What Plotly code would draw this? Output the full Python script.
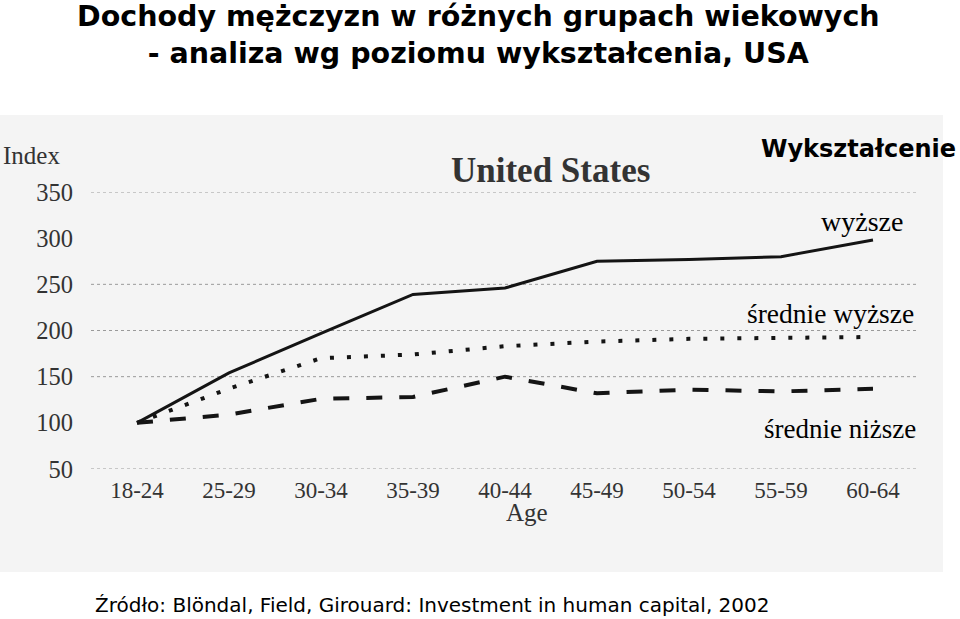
import plotly.graph_objects as go

# ---- data ----
age_groups = ["18-24", "25-29", "30-34", "35-39", "40-44", "45-49", "50-54", "55-59", "60-64"]
wyzsze = [100, 154, 197, 239, 246, 275, 277, 280, 298]
srednie_wyzsze = [100, 137, 170, 174, 183, 188, 191, 192, 193]
srednie_nizsze = [100, 109, 126, 128, 150, 132, 136, 134, 137]
y_ticks = [50, 100, 150, 200, 250, 300, 350]
grid_values = [50, 150, 200, 250, 350]

W, H = 960, 619
L, R, T, B = 91, 919, 192, 469  # plot area in pixels

def px(xp):
    return (xp - L) / (R - L)

def py(yp):
    return (B - yp) / (B - T)

fig = go.Figure()
fig.add_trace(go.Scatter(x=age_groups, y=wyzsze, mode="lines", name="wyższe",
                         line=dict(color="#141414", width=3)))
fig.add_trace(go.Scatter(x=age_groups, y=srednie_wyzsze, mode="lines", name="średnie wyższe",
                         line=dict(color="#141414", width=4, dash="4px,13px")))
fig.add_trace(go.Scatter(x=age_groups, y=srednie_nizsze, mode="lines", name="średnie niższe",
                         line=dict(color="#141414", width=4, dash="16px,17px")))

shapes = [dict(type="rect", xref="paper", yref="paper", x0=px(0), x1=px(943), y0=py(572), y1=py(115),
               fillcolor="#f4f4f4", line=dict(width=0), layer="below")]
for g in grid_values:
    shapes.append(dict(type="line", xref="paper", yref="y", x0=0, x1=1, y0=g, y1=g,
                       line=dict(color="#9a9a9a", width=1, dash="dot"), layer="below"))

serif = "Liberation Serif"
sans = "DejaVu Sans"
annotations = [
    dict(text="<b>Dochody mężczyzn w różnych grupach wiekowych</b><br><b>- analiza wg poziomu wykształcenia, USA</b>",
         x=px(478), y=py(35), xref="paper", yref="paper", showarrow=False, align="center",
         font=dict(family=sans, size=28.5, color="#000"), xanchor="center", yanchor="middle"),
    dict(text="<b>United States</b>", x=px(550), y=py(170), xref="paper", yref="paper", showarrow=False,
         font=dict(family=serif, size=35, color="#333"), xanchor="center", yanchor="middle"),
    dict(text="Index", x=px(1), y=py(155), xref="paper", yref="paper", showarrow=False,
         font=dict(family=serif, size=25, color="#333"), xanchor="left", yanchor="middle"),
    dict(text="Age", x=px(527), y=py(512), xref="paper", yref="paper", showarrow=False,
         font=dict(family=serif, size=25, color="#333"), xanchor="center", yanchor="middle"),
    dict(text="<b>Wykształcenie</b>", x=px(958), y=py(149), xref="paper", yref="paper", showarrow=False,
         font=dict(family=sans, size=24, color="#000"), xanchor="right", yanchor="middle"),
    dict(text="wyższe", x=px(862), y=py(221), xref="paper", yref="paper", showarrow=False,
         font=dict(family=serif, size=28, color="#000"), xanchor="center", yanchor="middle"),
    dict(text="średnie wyższe", x=px(830), y=py(313), xref="paper", yref="paper", showarrow=False,
         font=dict(family=serif, size=27.5, color="#000"), xanchor="center", yanchor="middle"),
    dict(text="średnie niższe", x=px(840), y=py(429), xref="paper", yref="paper", showarrow=False,
         font=dict(family=serif, size=27, color="#000"), xanchor="center", yanchor="middle"),
    dict(text="Źródło: Blöndal, Field, Girouard: Investment in human capital, 2002",
         x=px(432), y=py(605), xref="paper", yref="paper", showarrow=False,
         font=dict(family=sans, size=20, color="#000"), xanchor="center", yanchor="middle"),
]

fig.update_layout(
    width=W, height=H,
    margin=dict(l=L, r=W - R, t=T, b=H - B),
    paper_bgcolor="white", plot_bgcolor="rgba(0,0,0,0)",
    showlegend=False,
    shapes=shapes, annotations=annotations,
    xaxis=dict(type="category", range=[-0.5, 8.5], showgrid=False, zeroline=False, showline=False,
               ticks="", tickfont=dict(family=serif, size=23, color="#333"), ticklabelstandoff=5),
    yaxis=dict(range=[50, 350], tickvals=y_ticks, showgrid=False, zeroline=False, showline=False,
               ticks="", tickfont=dict(family=serif, size=24.5, color="#333"), ticklabelstandoff=17),
)

fig.write_html("out.html", config={"displayModeBar": False},
               post_script="document.body.style.margin='0';")
